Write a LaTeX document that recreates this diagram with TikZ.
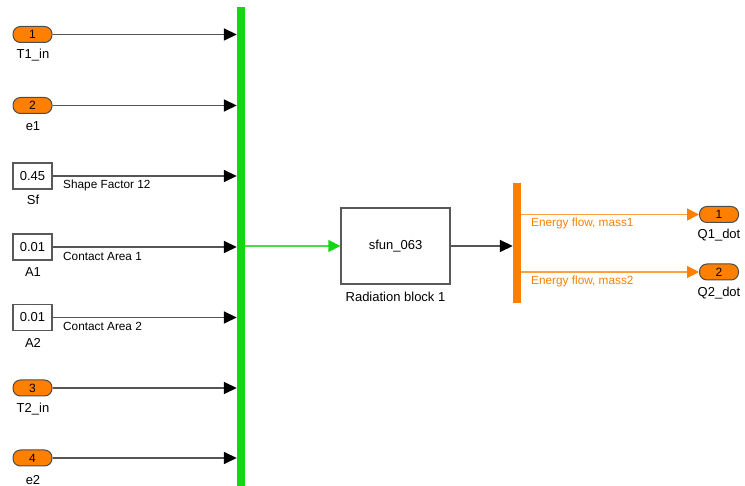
\documentclass[tikz,border=0pt]{standalone}
\usepackage{fontspec}
\setmainfont{Liberation Sans}
\usetikzlibrary{arrows.meta}
\definecolor{slorange}{RGB}{255,128,0}
\definecolor{slgreen}{RGB}{20,215,20}
\definecolor{slline}{RGB}{85,85,85}

\begin{document}
\begin{tikzpicture}[x=1pt,y=-1pt,
    inport/.style={draw=black!70,fill=slorange,rounded corners=7.5pt,minimum width=39pt,minimum height=16pt,inner sep=0pt,line width=1pt,font=\fontsize{12}{13}\selectfont},
    constbox/.style={draw=black!65,fill=white,line width=1.4pt,minimum width=39pt,minimum height=26pt,inner sep=0pt,font=\fontsize{13}{14}\selectfont},
    blockbox/.style={draw=black!65,fill=white,line width=1.4pt,minimum width=109pt,minimum height=76pt,inner sep=0pt,font=\fontsize{13}{14}\selectfont},
    portname/.style={inner sep=0pt,font=\fontsize{13}{14}\selectfont},
    sigtext/.style={inner sep=0pt,anchor=west,font=\fontsize{11.8}{13}\selectfont},
    wire/.style={draw=slline,line width=1.6pt,-{Triangle[length=13pt,width=12pt,color=black]}},
    greenwire/.style={draw=slgreen!80,line width=1.6pt,-{Triangle[length=12pt,width=12pt,color=slgreen]}},
    orangewire/.style={draw=slorange!75,line width=1.5pt,-{Triangle[length=12pt,width=12pt,color=slorange]}}]
                \useasboundingbox (0,0) rectangle (745,486);
                % inputs
                \node [inport] (in1) at (32.5,34.5) {1};
                \node [portname] (in1name) at (33,55) {T1\_in};
                \node [inport] (in2) at (32.5,105.5) {2};
                \node [portname] (in2name) at (33,126) {e1};
                \node [constbox] (sf) at (32.5,176) {0.45};
                \node [portname] (sfname) at (33,200) {Sf};
                \node [constbox] (a1) at (32.5,247) {0.01};
                \node [portname] (a1name) at (33,272) {A1};
                \node [constbox] (a2) at (32.5,317.5) {0.01};
                \node [portname] (a2name) at (33,343) {A2};
                \node [inport] (in3) at (32.5,388) {3};
                \node [portname] (in3name) at (33,409) {T2\_in};
                \node [inport] (in4) at (32.5,458) {4};
                \node [portname] (in4name) at (33,480) {e2};
                % bus
                \node [fill=slgreen,minimum width=8pt,minimum height=479pt,inner sep=0pt] (bus) at (241,246.5) {};
                \draw [wire] (in1.east) -- (bus.west |- in1.east);
                \draw [wire] (in2.east) -- (bus.west |- in2.east);
                \draw [wire] (sf.east) -- (bus.west |- sf.east);
                \node [sigtext] (sflabel) at (63,185) {Shape Factor 12};
                \draw [wire] (a1.east) -- (bus.west |- a1.east);
                \node [sigtext] (a1label) at (63,256) {Contact Area 1};
                \draw [wire] (a2.east) -- (bus.west |- a2.east);
                \node [sigtext] (a2label) at (63,326) {Contact Area 2};
                \draw [wire] (in3.east) -- (bus.west |- in3.east);
                \draw [wire] (in4.east) -- (bus.west |- in4.east);
                % radiation block
                \node [blockbox] (rad) at (395.5,246) {sfun\_063};
                \node [portname] (radname) at (395.5,297) {Radiation block 1};
                \draw [greenwire] (bus.east |- rad.west) -- (rad.west);
                % demux and outputs
                \node [fill=slorange,minimum width=8pt,minimum height=120pt,inner sep=0pt] (demux) at (517,243) {};
                \draw [wire] (rad.east) -- (demux.west |- rad.east);
                \node [inport] (out1) at (719,214.5) {1};
                \node [portname] (out1name) at (719,235) {Q1\_dot};
                \node [inport] (out2) at (719,272) {2};
                \node [portname] (out2name) at (719,293) {Q2\_dot};
                \draw [orangewire] (demux.east |- out1.west) -- (out1.west);
                \node [sigtext,text=slorange] (e1label) at (531,223) {Energy flow, mass1};
                \draw [orangewire] (demux.east |- out2.west) -- (out2.west);
                \node [sigtext,text=slorange] (e2label) at (531,281) {Energy flow, mass2};
\end{tikzpicture}
\end{document}
